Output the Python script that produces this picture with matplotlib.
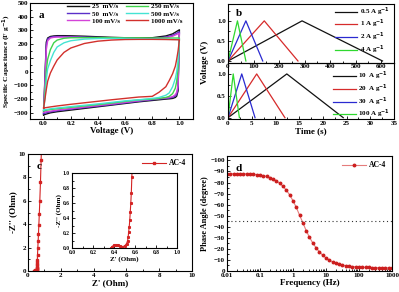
import matplotlib
matplotlib.use('Agg')
import matplotlib.pyplot as plt
from matplotlib.ticker import MultipleLocator, FixedLocator, NullFormatter, LogLocator

plt.rcParams['font.family'] = ['Liberation Serif', 'DejaVu Serif']
plt.rcParams['font.weight'] = 'bold'
plt.rcParams['axes.labelweight'] = 'bold'
plt.rcParams['mathtext.default'] = 'bf'

# ---- panel a: CV curves ----
v_up = [0.0, 0.01, 0.02, 0.03, 0.05, 0.075, 0.1, 0.15, 0.2, 0.3, 0.4, 0.5, 0.6, 0.7, 0.8, 0.9, 0.95, 1.0]
v_dn = [1.0, 0.99, 0.98, 0.97, 0.95, 0.925, 0.9, 0.85, 0.8, 0.7, 0.6, 0.5, 0.4, 0.3, 0.2, 0.1, 0.05, 0.0]
cv_labels = ['25  mV/s', '50  mV/s', '100 mV/s', '250 mV/s', '500 mV/s', '1000 mV/s']
cv_colors = ['#111111', '#5b2fc9', '#d444d8', '#3fd34a', '#45e3d3', '#d2302c']
cv_up = [
    [-315, -40, 215, 245, 256, 260, 262, 262, 261, 258, 254, 250, 247, 245, 247, 260, 275, 305],
    [-305, -60, 195, 238, 250, 255, 256, 256, 255, 252, 249, 246, 243, 241, 242, 252, 265, 290],
    [-295, -90, 160, 225, 245, 250, 252, 252, 251, 248, 245, 242, 240, 238, 239, 247, 258, 280],
    [-285, -150, 10, 90, 160, 210, 230, 243, 247, 248, 248, 247, 246, 246, 245, 245, 245, 245],
    [-280, -200, -60, 20, 80, 140, 180, 210, 225, 237, 241, 242, 242, 240, 238, 236, 235, 235],
    [-265, -200, -130, -70, -10, 40, 85, 140, 172, 205, 222, 230, 234, 235, 235, 234, 233, 232],
]
cv_dn = [
    [305, -140, -178, -188, -195, -198, -200, -205, -210, -220, -232, -244, -256, -268, -280, -292, -300, -315],
    [290, -120, -165, -178, -188, -192, -195, -200, -205, -216, -228, -240, -251, -262, -273, -285, -293, -305],
    [280, -100, -150, -168, -182, -188, -191, -196, -201, -212, -224, -236, -247, -258, -269, -280, -288, -295],
    [245, 20, -70, -120, -160, -180, -188, -195, -200, -206, -217, -229, -240, -250, -260, -270, -276, -285],
    [235, 80, 0, -50, -110, -155, -172, -188, -195, -205, -213, -224, -235, -245, -255, -265, -271, -280],
    [232, 150, 90, 40, -15, -65, -110, -150, -180, -185, -195, -205, -216, -227, -238, -250, -257, -265],
]

# ---- panel b: GCD triangles ----
gcd_top_labels = ['0.5 A g$^{-1}$', '1 A g$^{-1}$', '2 A g$^{-1}$', '4 A g$^{-1}$']
gcd_top_t = [[0, 290, 605], [0, 142, 274], [0, 70, 136], [0, 37, 70]]
gcd_bot_labels = ['10  A g$^{-1}$', '20  A g$^{-1}$', '30  A g$^{-1}$', '100 A g$^{-1}$']
gcd_bot_t = [[0, 12.4, 24.3], [0, 6.05, 12.0], [0, 2.9, 5.7], [0, 1.1, 2.4]]
gcd_v = [0.0, 1.0, 0.0]
gcd_colors = ['#111111', '#d62b2b', '#2a2ad0', '#2fd82f']

# ---- panel c: Nyquist ----
z_re = [0.37, 0.38, 0.40, 0.42, 0.44, 0.46, 0.48, 0.50, 0.52, 0.53, 0.535, 0.54, 0.545, 0.55,
        0.555, 0.56, 0.565, 0.57, 0.58, 0.60, 0.62, 0.64, 0.66, 0.69, 0.72, 0.76, 0.80, 0.84]
z_im = [0.0, 0.02, 0.04, 0.045, 0.04, 0.03, 0.02, 0.025, 0.06, 0.10, 0.15, 0.22, 0.28, 0.37,
        0.48, 0.60, 0.74, 0.95, 1.4, 2.0, 2.6, 3.2, 3.9, 4.9, 6.0, 7.6, 9.5, 11.5]

# ---- panel d: Bode phase ----
freq = [0.01, 0.0126, 0.0158, 0.02, 0.0251, 0.0316, 0.0398, 0.0501, 0.0631, 0.0794,
        0.1, 0.126, 0.158, 0.2, 0.251, 0.316, 0.398, 0.501, 0.631, 0.794,
        1.0, 1.26, 1.58, 2.0, 2.51, 3.16, 3.98, 5.01, 6.31, 7.94,
        10, 12.6, 15.8, 20, 25.1, 31.6, 39.8, 50.1, 63.1, 79.4,
        100, 126, 158, 200, 251, 316, 398, 501, 631, 794, 1000]
phase = [-88.0, -88.0, -88.0, -88.0, -88.0, -87.9, -87.9, -87.7, -87.5, -87.2,
         -86.8, -86.2, -85.5, -84.5, -83.2, -81.5, -79.3, -76.5, -73.0, -68.8,
         -63.5, -57.5, -50.5, -43.5, -36.5, -30.5, -25.3, -21.0, -17.3, -14.3,
         -11.8, -9.8, -8.3, -7.1, -6.1, -5.4, -4.8, -4.4, -4.0, -3.8,
         -3.6, -3.4, -3.3, -3.2, -3.1, -3.0, -3.0, -2.9, -2.9, -2.9, -2.9]

W, H = 399, 292
fig = plt.figure(figsize=(W / 100, H / 100), dpi=100)


def box(l, t, r, b):
    return [l / W, 1 - b / H, (r - l) / W, (b - t) / H]


def style(ax, fs=5):
    ax.tick_params(which='both', direction='in', labelsize=fs, pad=1.5, width=0.6)
    ax.tick_params(which='major', length=2.2)
    ax.tick_params(which='minor', length=1.2)
    for s in ax.spines.values():
        s.set_linewidth(0.8)


# panel a
ax = fig.add_axes(box(30, 3, 193, 119))
for vu, vd, c, lab in zip(cv_up, cv_dn, cv_colors, cv_labels):
    ax.plot(v_up + v_dn, vu + vd, color=c, lw=1.0, label=lab)
ax.set_xlim(-0.1, 1.1)
ax.set_ylim(-345, 500)
ax.xaxis.set_major_locator(MultipleLocator(0.2))
ax.xaxis.set_minor_locator(MultipleLocator(0.1))
ax.yaxis.set_major_locator(MultipleLocator(100))
ax.yaxis.set_minor_locator(MultipleLocator(50))
style(ax)
ax.set_xlabel('Voltage (V)', fontsize=6.5, labelpad=1)
ax.set_ylabel('Specific Capacitance (F g$^{-1}$)', fontsize=5.4, labelpad=0.5)
ax.legend(ncol=2, loc='upper left', bbox_to_anchor=(0.19, 1.05), frameon=False,
          fontsize=5, handlelength=3.2, columnspacing=0.8, labelspacing=0.2, handletextpad=0.4)
ax.text(0.05, 0.93, 'a', transform=ax.transAxes, fontsize=8, va='top')

# panel b bottom
bb = fig.add_axes(box(228, 63, 394, 119))
for t, c, lab in zip(gcd_bot_t, gcd_colors, gcd_bot_labels):
    bb.plot(t, gcd_v, color=c, lw=0.9, label=lab)
bb.set_xlim(0, 35)
bb.set_ylim(-0.03, 1.25)
bb.xaxis.set_major_locator(MultipleLocator(5))
bb.xaxis.set_minor_locator(MultipleLocator(2.5))
bb.yaxis.set_major_locator(FixedLocator([0.0, 0.5, 1.0]))
bb.yaxis.set_minor_locator(MultipleLocator(0.25))
bb.yaxis.set_major_formatter(plt.FormatStrFormatter('%.1f'))
style(bb)
bb.set_xlabel('Time (s)', fontsize=6.5, labelpad=1)
bb.legend(loc='lower right', bbox_to_anchor=(1.0, -0.09), frameon=False, fontsize=5,
          handlelength=3.2, labelspacing=0.05, handletextpad=0.4, borderaxespad=0.15)

# panel b top (drawn over the bottom one so its tick labels show)
bt = fig.add_axes(box(228, 4, 394, 63))
bt.patch.set_alpha(0)
for t, c, lab in zip(gcd_top_t, gcd_colors, gcd_top_labels):
    bt.plot(t, gcd_v, color=c, lw=0.9, label=lab)
bt.set_xlim(0, 650)
bt.set_ylim(-0.05, 1.42)
bt.xaxis.set_major_locator(MultipleLocator(100))
bt.xaxis.set_minor_locator(MultipleLocator(50))
bt.yaxis.set_major_locator(FixedLocator([0.0, 0.5, 1.0]))
bt.yaxis.set_minor_locator(MultipleLocator(0.25))
bt.yaxis.set_major_formatter(plt.FormatStrFormatter('%.1f'))
style(bt)
bt.tick_params(axis='x', pad=0.8)
bt.legend(loc='upper right', bbox_to_anchor=(1.0, 1.04), frameon=False, fontsize=5,
          handlelength=3.2, labelspacing=0.05, handletextpad=0.4, borderaxespad=0.15)
bt.text(0.05, 0.92, 'b', transform=bt.transAxes, fontsize=8, va='top')
fig.text(205 / W, 1 - 62 / H, 'Voltage (V)', rotation=90, fontsize=6.5,
         ha='center', va='center', fontweight='bold')

# panel c
cx = fig.add_axes(box(28, 154, 192, 271))
cx.plot(z_re, z_im, color='#d42424', lw=0.8, marker='s', ms=1.6, label='AC-4')
cx.set_xlim(0, 10)
cx.set_ylim(0, 10)
cx.xaxis.set_major_locator(MultipleLocator(2))
cx.xaxis.set_minor_locator(MultipleLocator(1))
cx.yaxis.set_major_locator(MultipleLocator(2))
cx.yaxis.set_minor_locator(MultipleLocator(1))
style(cx)
cx.set_xlabel("Z' (Ohm)", fontsize=6.5, labelpad=1)
cx.set_ylabel("-Z'' (Ohm)", fontsize=6.5, labelpad=1)
cx.legend(loc='upper right', frameon=False, fontsize=5.5, handlelength=3.2,
          handletextpad=0.4, borderaxespad=0.3)
cx.text(0.05, 0.93, 'c', transform=cx.transAxes, fontsize=8, va='top')

ins = fig.add_axes(box(72, 173, 177, 248))
ins.plot(z_re, z_im, color='#d42424', lw=0.8, marker='s', ms=1.2)
ins.set_xlim(0, 1)
ins.set_ylim(0, 1)
ins.xaxis.set_major_locator(MultipleLocator(0.2))
ins.xaxis.set_minor_locator(MultipleLocator(0.1))
ins.yaxis.set_major_locator(MultipleLocator(0.2))
ins.yaxis.set_minor_locator(MultipleLocator(0.1))
style(ins, fs=4)
ins.set_xlabel("Z' (Ohm)", fontsize=5, labelpad=0.5)
ins.set_ylabel("-Z'' (Ohm)", fontsize=5, labelpad=0.5)

# panel d
dx = fig.add_axes(box(227, 156, 392, 271))
dx.plot(freq, phase, color='#e57c7c', lw=0.8, marker='o', ms=1.8,
        mfc='#cc1f1f', mec='#cc1f1f', label='AC-4')
dx.axhline(-45, color='#333333', lw=0.8, ls=(0, (1, 2.5)))
dx.set_xscale('log')
dx.set_xlim(0.01, 1000)
dx.set_ylim(0, -104)
dx.yaxis.set_major_locator(MultipleLocator(10))
dx.yaxis.set_minor_locator(MultipleLocator(5))
dx.xaxis.set_major_locator(FixedLocator([0.01, 0.1, 1, 10, 100, 1000]))
dx.set_xticklabels(['0.01', '0.1', '1', '10', '100', '1000'])
dx.xaxis.set_minor_locator(LogLocator(base=10, subs=range(2, 10)))
dx.xaxis.set_minor_formatter(NullFormatter())
style(dx)
dx.set_xlabel('Frequency (Hz)', fontsize=6.5, labelpad=1)
dx.set_ylabel('Phase Angle (degree)', fontsize=6, labelpad=1)
dx.legend(loc='upper right', frameon=False, fontsize=5.5, handlelength=3.2,
          handletextpad=0.4, borderaxespad=0.3)
dx.text(0.05, 0.93, 'd', transform=dx.transAxes, fontsize=8, va='top')

fig.savefig('out.png', dpi=100)
